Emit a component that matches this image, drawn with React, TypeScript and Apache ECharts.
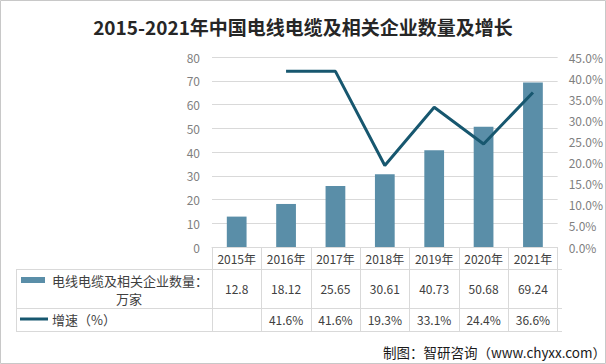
import React, { useEffect, useRef } from "react";
import * as echarts from "echarts";

const categories = ["2015年", "2016年", "2017年", "2018年", "2019年", "2020年", "2021年"];
const companyCounts = [12.8, 18.12, 25.65, 30.61, 40.73, 50.68, 69.24];
const growthRates: (number | null)[] = [null, 41.6, 41.6, 19.3, 33.1, 24.4, 36.6];
const barName = "电线电缆及相关企业数量：万家";
const lineName = "增速（%）";
const titleText = "2015-2021年中国电线电缆及相关企业数量及增长";
const sourceText = "制图：智研咨询（www.chyxx.com）";

const BAR_COLOR = "#5a8ea8";
const LINE_COLOR = "#17576f";
const GRID_COLOR = "#d9d9d9";
const FONT = "'Noto Sans CJK SC', 'Noto Sans', sans-serif";

export default function App() {
  const ref = useRef<HTMLDivElement>(null);
  useEffect(() => {
    document.body.style.margin = "0";
    const chart = echarts.init(ref.current!, null, { renderer: "svg" });
    const W = 606, H = 364;
    const gLeft = 212, gRight = 562, gTop = 57, gBottom = 247;
    const rowLines = [269, 308, 331];
    const tableLeft = 16;
    const graphics: any[] = [
      { type: "rect", shape: { x: 0.5, y: 0.5, width: W - 1, height: H - 1 }, style: { fill: "none", stroke: "#c8c8c8", lineWidth: 1 }, silent: true },
      ...rowLines.map((y) => ({
        type: "line",
        shape: { x1: tableLeft, y1: y + 0.5, x2: gRight, y2: y + 0.5 },
        style: { stroke: GRID_COLOR, lineWidth: 1 },
      })),
      { type: "line", shape: { x1: tableLeft + 0.5, y1: rowLines[0], x2: tableLeft + 0.5, y2: rowLines[2] }, style: { stroke: GRID_COLOR, lineWidth: 1 } },
      { type: "rect", shape: { x: 21, y: 277, width: 24, height: 6 }, style: { fill: BAR_COLOR } },
      { type: "text", x: 52, y: 280, style: { text: "电线电缆及相关企业数量：", font: `13px ${FONT}`, fill: "#404040", verticalAlign: "middle" } },
      { type: "text", x: 129, y: 298, style: { text: "万家", font: `13px ${FONT}`, fill: "#404040", verticalAlign: "middle", align: "center" } },
      { type: "line", shape: { x1: 20, y1: 319, x2: 48, y2: 319 }, style: { stroke: LINE_COLOR, lineWidth: 3 } },
      { type: "text", x: 52, y: 319, style: { text: lineName, font: `13px ${FONT}`, fill: "#404040", verticalAlign: "middle" } },
      { type: "text", x: 606, y: 352, style: { text: sourceText, font: `13.5px ${FONT}`, fill: "#1a1a1a", verticalAlign: "middle", align: "right" } },
    ];
    const rowAxis = (margin: number, fmt: (i: number) => string) => ({
      type: "category",
      gridIndex: 0,
      position: "bottom",
      data: categories,
      axisLine: { show: false },
      axisTick: { show: false },
      splitLine: { show: false },
      axisLabel: {
        margin,
        fontSize: 12,
        fontFamily: FONT,
        color: "#404040",
        interval: 0,
        formatter: (_v: string, i: number) => fmt(i),
      },
    });
    chart.setOption({
      animation: false,
      title: {
        text: titleText,
        left: "center",
        top: 12,
        textStyle: { fontSize: 19, fontWeight: "bold", color: "#262626", fontFamily: FONT },
      },
      grid: { left: gLeft, right: W - gRight, top: gTop, bottom: H - gBottom, containLabel: false },
      xAxis: [
        {
          type: "category",
          data: categories,
          position: "bottom",
          axisLine: { show: true, lineStyle: { color: GRID_COLOR } },
          axisTick: { show: true, length: rowLines[2] - gBottom, lineStyle: { color: GRID_COLOR } },
          axisLabel: { margin: 5, fontSize: 12, fontFamily: FONT, color: "#404040", interval: 0 },
        },
        rowAxis(35, (i) => String(companyCounts[i])),
        rowAxis(66, (i) => (growthRates[i] == null ? "" : (growthRates[i] as number).toFixed(1) + "%")),
      ],
      yAxis: [
        {
          type: "value",
          min: 0,
          max: 80,
          interval: 10,
          axisLine: { show: false },
          axisTick: { show: false },
          splitLine: { lineStyle: { color: GRID_COLOR } },
          axisLabel: { margin: 12, fontSize: 12, fontFamily: FONT, color: "#7f7f7f" },
        },
        {
          type: "value",
          min: 0,
          max: 45,
          interval: 5,
          position: "right",
          axisLine: { show: false },
          axisTick: { show: false },
          splitLine: { show: false },
          axisLabel: { margin: 11, fontSize: 12, fontFamily: FONT, color: "#7f7f7f", formatter: (v: number) => v.toFixed(1) + "%" },
        },
      ],
      series: [
        {
          name: barName,
          type: "bar",
          xAxisIndex: 0,
          yAxisIndex: 0,
          data: companyCounts,
          barWidth: "40%",
          itemStyle: { color: BAR_COLOR },
        },
        {
          name: lineName,
          type: "line",
          xAxisIndex: 0,
          yAxisIndex: 1,
          data: growthRates,
          showSymbol: false,
          symbol: "none",
          lineStyle: { color: LINE_COLOR, width: 3 },
          itemStyle: { color: LINE_COLOR },
        },
      ],
      graphic: graphics,
    });
    return () => chart.dispose();
  }, []);
  return <div ref={ref} style={{ position: "absolute", left: 0, top: 0, width: 606, height: 364, background: "#fff" }} />;
}
